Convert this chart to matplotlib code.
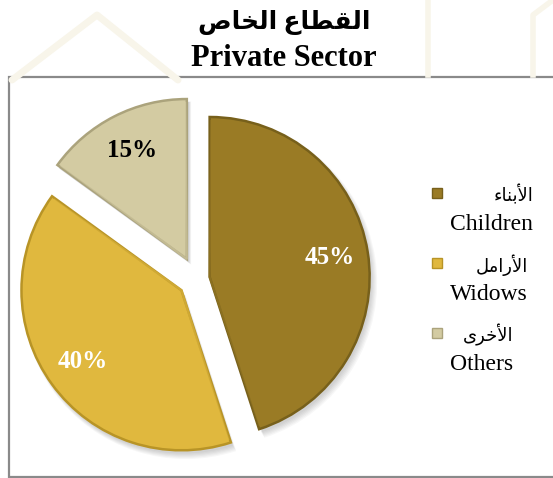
import matplotlib
matplotlib.use("Agg")
import matplotlib.pyplot as plt
from matplotlib.patches import Rectangle, Wedge

# Data
SHARES = [45, 40, 15]
LABELS_EN = ["Children", "Widows", "Others"]
# Arabic written in presentation forms, visual (left-to-right) order
LABELS_AR = [
    "\uFE80\uFE8E\uFEE8\uFE91\uFEF7\uFE8D",   # الأبناء
    "\uFEDE\uFEE3\uFE8D\uFEAD\uFEF7\uFE8D",   # الأرامل
    "\uFEEF\uFEAE\uFEA7\uFEF7\uFE8D",         # الأخرى
]
TITLE_AR = "\uFEB9\uFE8E\uFEA8\uFEDF\uFE8D \uFEC9\uFE8E\uFEC4\uFED8\uFEDF\uFE8D"  # القطاع الخاص
TITLE_EN = "Private Sector"
COLORS = ["#9A7B25", "#E0B83E", "#D3CBA2"]
EDGES = ["#77601B", "#B89426", "#ABA37C"]
PCT_COLORS = ["white", "white", "black"]
EXPLODE = [0.08, 0.12, 0.14]

W, H = 553, 478
SERIF = ["Liberation Serif", "DejaVu Sans"]

fig = plt.figure(figsize=(W / 100, H / 100), dpi=100)

# Background axes in pixel units (y measured upward)
bg = fig.add_axes([0, 0, 1, 1])
bg.set_xlim(0, W)
bg.set_ylim(0, H)
bg.axis("off")

# Faint watermark outside the chart box
wm = "#F8F5EA"
bg.plot([12, 97, 178], [H - 80, H - 15, H - 80], color=wm, lw=5, solid_capstyle="round")
bg.plot([428, 428], [H - 75, H], color=wm, lw=4)
bg.plot([533, 533, 553], [H - 75, H - 15, H], color=wm, lw=4)

# Chart box
bg.add_patch(Rectangle((8.5, 1.5), W, H - 78.5, facecolor="white",
                       edgecolor="#8A8A8A", lw=1.6, zorder=1))

# Titles
bg.text(284, H - 22, TITLE_AR, ha="center", va="center", fontsize=18,
        fontweight="bold", family=SERIF)
bg.text(284, H - 66, TITLE_EN, ha="center", va="baseline", fontsize=22,
        fontweight="bold", family=SERIF)

# Legend
rows = [H - 195, H - 265, H - 335]
for i in range(len(SHARES)):
    y = rows[i]
    bg.plot(437, y + 2, marker="s", ms=7.5, mfc=COLORS[i], mec=EDGES[i], mew=1, zorder=3)
    en = bg.text(450, y - 29, LABELS_EN[i], ha="left", va="center", fontsize=17,
                 family=SERIF, zorder=3)
    fig.canvas.draw()
    ext = en.get_window_extent()
    bg.text(ext.x1, y, LABELS_AR[i], ha="right", va="center", fontsize=13,
            family=SERIF, zorder=3)

# Pie axes: center at (197, 199) px, radius 160 px
cx, cy, r = 197, H - 279, 160
pie_ax = fig.add_axes([(cx - 1.25 * r) / W, (cy - 1.25 * r) / H, 2.5 * r / W, 2.5 * r / H])
wedges, texts, autotexts = pie_ax.pie(
    SHARES, explode=EXPLODE, colors=COLORS, startangle=90, counterclock=False,
    autopct="%d%%", pctdistance=0.76,
    wedgeprops=dict(edgecolor="none", linewidth=0),
    textprops=dict(fontsize=18, fontweight="bold", family=SERIF),
)
for i, w in enumerate(wedges):
    # soft shadow
    for k in range(6):
        s = Wedge((w.center[0] + 0.012 + 0.003 * k, w.center[1] - 0.02 - 0.003 * k),
                  w.r + 0.004 * k, w.theta1, w.theta2, facecolor="black",
                  alpha=0.03, edgecolor="none", zorder=0)
        pie_ax.add_patch(s)
    w.set_zorder(2)
    # bevel rim
    rim = Wedge(w.center, w.r, w.theta1, w.theta2, facecolor="none",
                edgecolor=EDGES[i], lw=1.8, zorder=3)
    pie_ax.add_patch(rim)
    inner = Wedge(w.center, w.r * 0.975, w.theta1 + 0.6, w.theta2 - 0.6,
                  facecolor="none", edgecolor=COLORS[i], lw=1.5, alpha=0.6, zorder=3)
    pie_ax.add_patch(inner)
for t, c in zip(autotexts, PCT_COLORS):
    t.set_color(c)
    t.set_zorder(5)
pie_ax.set_xlim(-1.25, 1.25)
pie_ax.set_ylim(-1.25, 1.25)

fig.savefig("out.png", dpi=100)
